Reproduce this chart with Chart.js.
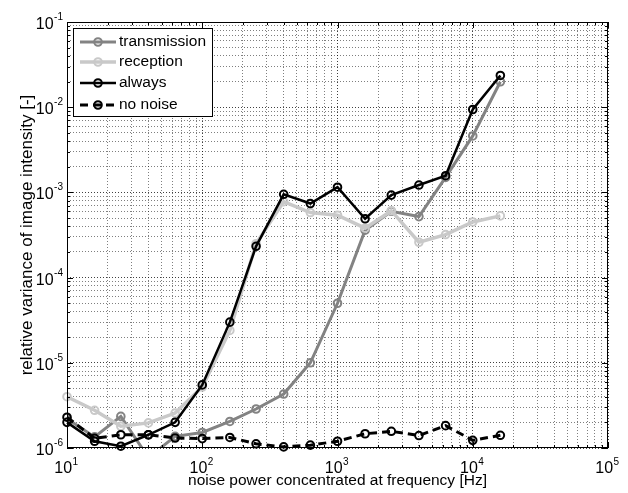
<!DOCTYPE html>
<html>
<head>
<meta charset="utf-8">
<script src="https://cdn.jsdelivr.net/npm/chart.js@4/dist/chart.umd.min.js"></script>
<style>
  html, body { margin: 0; padding: 0; background: #fff; }
</style>
</head>
<body>
<canvas id="chart" width="628" height="493"></canvas>
<script>
const freqs = [10, 16, 25, 40, 63, 100, 160, 250, 400, 630, 1000, 1600, 2500, 4000, 6300, 10000, 16000];

const transmission = [2.2e-6, 1.35e-6, 2.35e-6, 7.7e-7, 1.37e-6, 1.52e-6, 2.05e-6, 2.87e-6, 4.3e-6, 1.0e-5,
  5.0e-5, 3.6e-4, 6.0e-4, 5.2e-4, 1.5e-3, 4.6e-3, 1.99e-2];
const reception = [4.0e-6, 2.77e-6, 1.8e-6, 1.97e-6, 2.57e-6, 5.2e-6, 2.4e-5, 2.5e-4, 7.8e-4, 5.8e-4,
  5.4e-4, 3.8e-4, 6.1e-4, 2.6e-4, 3.2e-4, 4.5e-4, 5.3e-4];
const always = [2.0e-6, 1.2e-6, 1.05e-6, 1.43e-6, 2.0e-6, 5.5e-6, 3.0e-5, 2.33e-4, 9.5e-4, 7.4e-4,
  1.15e-3, 4.9e-4, 9.3e-4, 1.22e-3, 1.57e-3, 9.4e-3, 2.36e-2];
const noNoise = [2.3e-6, 1.3e-6, 1.43e-6, 1.43e-6, 1.31e-6, 1.29e-6, 1.33e-6, 1.12e-6, 1.03e-6, 1.08e-6,
  1.2e-6, 1.47e-6, 1.57e-6, 1.4e-6, 1.83e-6, 1.23e-6, 1.41e-6];

// decade exponents for the tick labels
const xExps = [1, 2, 3, 4, 5];
const yExps = [-6, -5, -4, -3, -2, -1];

const FONT = "'Liberation Sans', Arial, sans-serif";

function pts(ys) {
  return freqs.map((f, i) => ({ x: f, y: ys[i] }));
}

// 1..9 x 10^e for every decade between the first and last exponent
function logTicks(exps) {
  const out = [];
  for (let e = exps[0]; e < exps[exps.length - 1]; e++) {
    for (let m = 1; m < 10; m++) out.push({ value: m * Math.pow(10, e), major: m === 1 });
  }
  out.push({ value: Math.pow(10, exps[exps.length - 1]), major: true });
  return out;
}

const gridColor = c => (c.tick && c.tick.major ? 'rgba(0,0,0,0.75)' : 'rgba(0,0,0,0.5)');

const matlabAxes = {
  id: 'matlabAxes',
  afterDatasetsDraw(chart) {
    const { ctx, chartArea: a, scales } = chart;
    const xs = scales.x, ys = scales.y;
    ctx.save();

    // box
    ctx.strokeStyle = '#000';
    ctx.lineWidth = 1;
    ctx.setLineDash([]);
    ctx.strokeRect(a.left + 0.5, a.top + 0.5, a.right - a.left - 1, a.bottom - a.top - 1);

    // inner tick marks on all four sides
    ctx.beginPath();
    xs.ticks.forEach(t => {
      const p = Math.round(xs.getPixelForValue(t.value)) + 0.5;
      const len = t.major ? 6 : 3;
      ctx.moveTo(p, a.bottom); ctx.lineTo(p, a.bottom - len);
      ctx.moveTo(p, a.top); ctx.lineTo(p, a.top + len);
    });
    ys.ticks.forEach(t => {
      const p = Math.round(ys.getPixelForValue(t.value)) + 0.5;
      const len = t.major ? 6 : 3;
      ctx.moveTo(a.left, p); ctx.lineTo(a.left + len, p);
      ctx.moveTo(a.right, p); ctx.lineTo(a.right - len, p);
    });
    ctx.stroke();

    // tick labels 10^n
    ctx.fillStyle = '#000';
    ctx.textBaseline = 'alphabetic';
    xExps.forEach(e => {
      const px = xs.getPixelForValue(Math.pow(10, e));
      ctx.font = '16px ' + FONT;
      const wb = ctx.measureText('10').width;
      ctx.font = '10px ' + FONT;
      const we = ctx.measureText(String(e)).width;
      const x0 = px - (wb + we) / 2 - 1;
      ctx.font = '16px ' + FONT;
      ctx.fillText('10', x0, a.bottom + 25);
      ctx.font = '10px ' + FONT;
      ctx.fillText(String(e), x0 + wb + 0.5, a.bottom + 17);
    });
    yExps.forEach(e => {
      const py = ys.getPixelForValue(Math.pow(10, e));
      ctx.font = '10px ' + FONT;
      const es = String(e);
      const we = ctx.measureText(es).width;
      ctx.font = '16px ' + FONT;
      const wb = ctx.measureText('10').width;
      const xr = a.left - 4;
      ctx.fillText('10', xr - we - wb - 0.5, py + 7);
      ctx.font = '10px ' + FONT;
      ctx.fillText(es, xr - we, py - 2);
    });

    // legend box
    const lx = 73, ly = 28, lw = 139, lh = 88;
    ctx.fillStyle = '#fff';
    ctx.fillRect(lx, ly, lw, lh);
    ctx.strokeStyle = '#000';
    ctx.lineWidth = 1;
    ctx.strokeRect(lx + 0.5, ly + 0.5, lw, lh);
    const rows = [42, 62, 83, 105];
    chart.data.datasets.forEach((ds, i) => {
      const y = rows[i];
      ctx.strokeStyle = ds.borderColor;
      ctx.lineWidth = ds.borderWidth;
      ctx.setLineDash(ds.borderDash || []);
      ctx.beginPath();
      ctx.moveTo(80, y); ctx.lineTo(116, y);
      ctx.stroke();
      ctx.setLineDash([]);
      ctx.lineWidth = ds.pointBorderWidth;
      ctx.beginPath();
      ctx.arc(98, y, ds.pointRadius, 0, Math.PI * 2);
      ctx.stroke();
      ctx.fillStyle = '#000';
      ctx.font = '15.5px ' + FONT;
      ctx.textBaseline = 'middle';
      ctx.fillText(ds.label, 119, y);
    });
    ctx.restore();
  }
};

function series(label, ys, color, width, dash, order, clip) {
  return {
    label: label,
    data: pts(ys),
    borderColor: color,
    borderWidth: width,
    borderDash: dash,
    pointRadius: 3.8,
    pointBorderWidth: 2,
    pointBorderColor: color,
    pointBackgroundColor: 'rgba(0,0,0,0)',
    tension: 0,
    order: order,
    clip: clip
  };
}

new Chart(document.getElementById('chart'), {
  type: 'line',
  data: {
    datasets: [
      series('transmission', transmission, '#838383', 3, [], 4, 0),
      series('reception', reception, '#c9c9c9', 3.5, [], 3, 6),
      series('always', always, '#000000', 2.5, [], 2, 6),
      series('no noise', noNoise, '#000000', 3, [8, 5], 1, 6)
    ]
  },
  options: {
    responsive: false,
    animation: false,
    layout: { padding: { top: 22, right: 20, left: 0, bottom: 0 } },
    plugins: { legend: { display: false }, tooltip: { enabled: false } },
    scales: {
      x: {
        type: 'logarithmic',
        min: 10, max: 1e5,
        afterBuildTicks: s => { s.ticks = logTicks(xExps); },
        afterFit: s => { s.height = 45; },
        ticks: { display: false },
        grid: { color: gridColor, drawTicks: false },
        border: { display: false, dash: [1, 2] },
        title: {
          display: true,
          text: 'noise power concentrated at frequency [Hz]',
          font: { family: FONT, size: 15.5 },
          color: '#000',
          padding: { top: 0, bottom: 3 }
        }
      },
      y: {
        type: 'logarithmic',
        min: 1e-6, max: 1e-1,
        afterBuildTicks: s => { s.ticks = logTicks(yExps); },
        afterFit: s => { s.width = 67; },
        ticks: { display: false },
        grid: { color: gridColor, drawTicks: false },
        border: { display: false, dash: [1, 2] },
        title: {
          display: true,
          text: 'relative variance of image intensity [-]',
          font: { family: FONT, size: 17 },
          color: '#000',
          padding: { top: 17, bottom: 0 }
        }
      }
    }
  },
  plugins: [matlabAxes]
});
</script>
</body>
</html>
